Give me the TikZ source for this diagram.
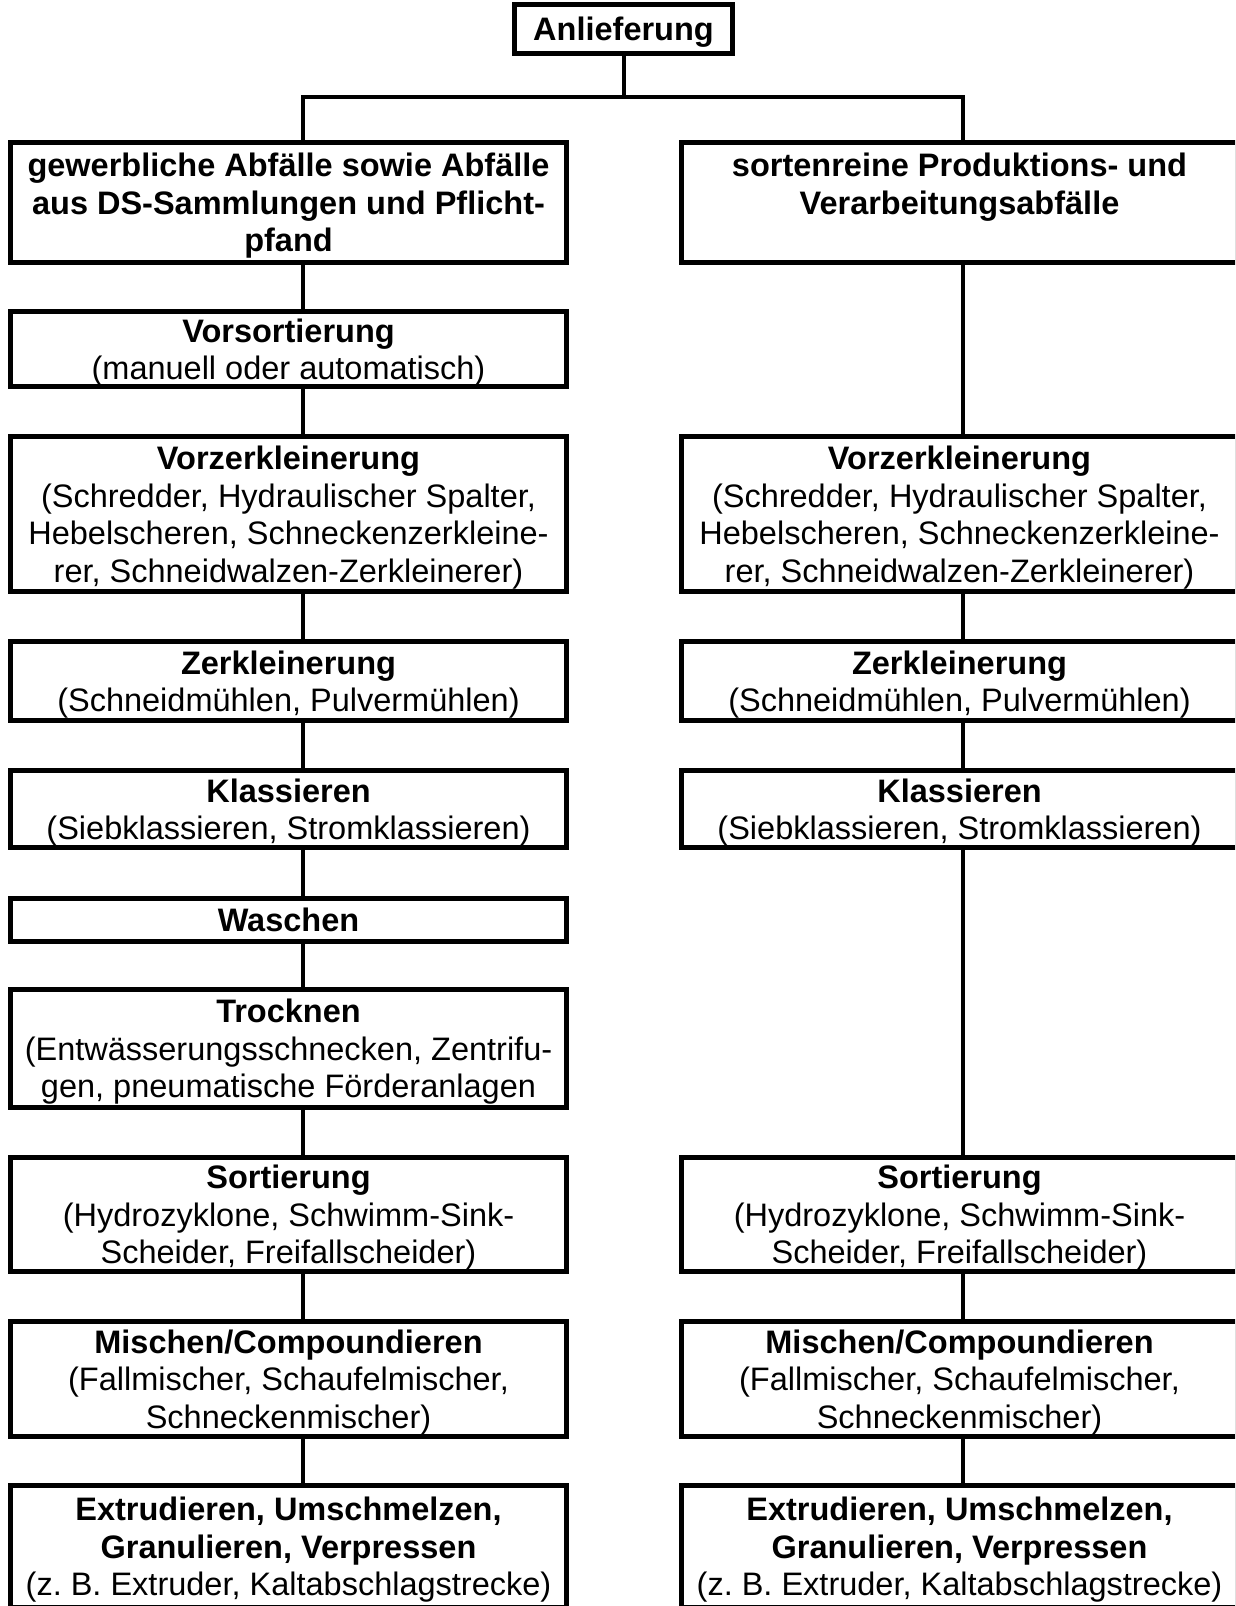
\documentclass[tikz,border=0pt]{standalone}
\usepackage{fontspec}
\setmainfont{Liberation Sans}
\frenchspacing

\begin{document}
\begin{tikzpicture}
[x=1pt,y=-1pt,
  boxDecorate/.style={shape=rectangle,draw,line width=5pt,minimum width=556pt,inner sep=2pt,text depth=0pt,align=center,font=\fontsize{32.5}{37.5}\selectfont},%
  lineDecorate/.style={-,line width=4.5pt}]
\useasboundingbox (0,0) rectangle (1235,1606);
\clip (0,0) rectangle (1235,1606);
%% top box
\node (anl) at (623.5,29) [boxDecorate,minimum width=218pt,minimum height=49pt] {\textbf{Anlieferung}};
%% left column
\node (gewAbf) at (288.5,202.5) [boxDecorate,minimum height=120pt] {\textbf{gewerbliche Abfälle sowie Abfälle}\\\textbf{aus DS-Sammlungen und Pflicht-}\\\textbf{pfand}};
\node (vorsortL) at (288.5,349) [boxDecorate,minimum height=75pt] {\textbf{Vorsortierung}\\(manuell oder automatisch)};
\node (vorzerkL) at (288.5,514) [boxDecorate,minimum height=155pt] {\textbf{Vorzerkleinerung}\\(Schredder, Hydraulischer Spalter,\\Hebelscheren, Schneckenzerkleine-\\rer, Schneidwalzen-Zerkleinerer)};
\node (zerkL) at (288.5,681) [boxDecorate,minimum height=79pt] {\textbf{Zerkleinerung}\\(Schneidmühlen, Pulvermühlen)};
\node (klassL) at (288.5,809) [boxDecorate,minimum height=77pt] {\textbf{Klassieren}\\(Siebklassieren, Stromklassieren)};
\node (waschL) at (288.5,920) [boxDecorate,minimum height=43pt] {\textbf{Waschen}};
\node (trockL) at (288.5,1048.5) [boxDecorate,minimum height=118pt] {\textbf{Trocknen}\\(Entwässerungsschnecken, Zentrifu-\\gen, pneumatische Förderanlagen};
\node (sortL) at (288.5,1214.5) [boxDecorate,minimum height=114pt] {\textbf{Sortierung}\\(Hydrozyklone, Schwimm-Sink-\\Scheider, Freifallscheider)};
\node (mischL) at (288.5,1379) [boxDecorate,minimum height=115pt] {\textbf{Mischen/Compoundieren}\\(Fallmischer, Schaufelmischer,\\Schneckenmischer)};
\node (extrL) at (288.5,1546.5) [boxDecorate,minimum height=122pt] {\textbf{Extrudieren, Umschmelzen,}\\\textbf{Granulieren, Verpressen}\\(z. B. Extruder, Kaltabschlagstrecke)};
%% right column
\node (sortenrein) at (959.5,202.5) [boxDecorate,minimum height=120pt] {\textbf{sortenreine Produktions- und}\\\textbf{Verarbeitungsabfälle}\\\strut};
\node (vorzerkR) at (959.5,514) [boxDecorate,minimum height=155pt] {\textbf{Vorzerkleinerung}\\(Schredder, Hydraulischer Spalter,\\Hebelscheren, Schneckenzerkleine-\\rer, Schneidwalzen-Zerkleinerer)};
\node (zerkR) at (959.5,681) [boxDecorate,minimum height=79pt] {\textbf{Zerkleinerung}\\(Schneidmühlen, Pulvermühlen)};
\node (klassR) at (959.5,809) [boxDecorate,minimum height=77pt] {\textbf{Klassieren}\\(Siebklassieren, Stromklassieren)};
\node (sortR) at (959.5,1214.5) [boxDecorate,minimum height=114pt] {\textbf{Sortierung}\\(Hydrozyklone, Schwimm-Sink-\\Scheider, Freifallscheider)};
\node (mischR) at (959.5,1379) [boxDecorate,minimum height=115pt] {\textbf{Mischen/Compoundieren}\\(Fallmischer, Schaufelmischer,\\Schneckenmischer)};
\node (extrR) at (959.5,1546.5) [boxDecorate,minimum height=122pt] {\textbf{Extrudieren, Umschmelzen,}\\\textbf{Granulieren, Verpressen}\\(z. B. Extruder, Kaltabschlagstrecke)};
%% split below the top box
\coordinate (split) at (624,97);
\draw[lineDecorate] ([xshift=0.5pt]anl.south) -- (split);
\draw[lineDecorate] ([xshift=14.5pt]gewAbf.north) |- (split) -| ([xshift=3.5pt]sortenrein.north);
%% edges or lines
\path
\foreach \startnode/\endnode/\dx in {
  gewAbf/vorsortL/14.5, vorsortL/vorzerkL/14.5, vorzerkL/zerkL/14.5, zerkL/klassL/14.5,
  klassL/waschL/14.5, waschL/trockL/14.5, trockL/sortL/14.5, sortL/mischL/14.5, mischL/extrL/14.5,
  sortenrein/vorzerkR/3.5, vorzerkR/zerkR/3.5, zerkR/klassR/3.5, klassR/sortR/3.5,
  sortR/mischR/3.5, mischR/extrR/3.5}
{
  ([xshift=\dx pt]\startnode.south) edge[lineDecorate] ([xshift=\dx pt]\endnode.north)
};
\end{tikzpicture}
\end{document}
